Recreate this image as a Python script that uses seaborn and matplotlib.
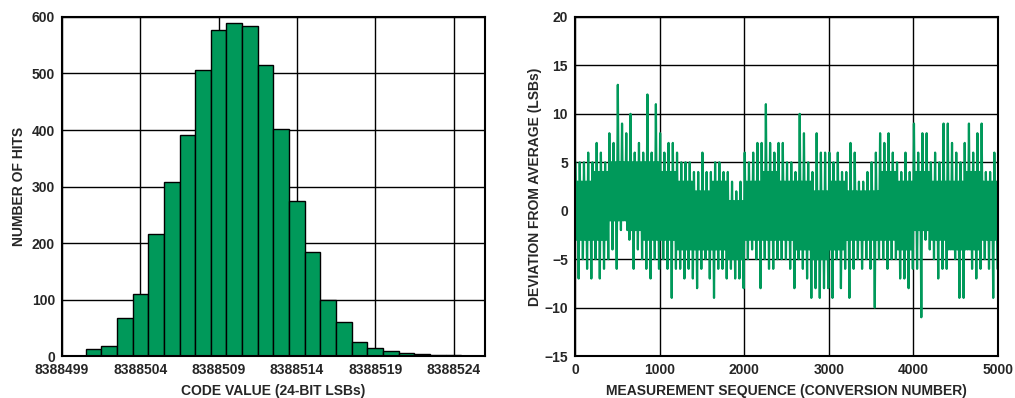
import numpy as np
import pandas as pd
import matplotlib.pyplot as plt
import seaborn as sns

# histogram of output codes (counts)
codes = [8388501, 8388502, 8388503, 8388504, 8388505, 8388506, 8388507, 8388508,
         8388509, 8388510, 8388511, 8388512, 8388513, 8388514, 8388515, 8388516,
         8388517, 8388518, 8388519, 8388520, 8388521, 8388522, 8388523, 8388524]
hits = [12, 18, 67, 110, 216, 308, 391, 507,
        577, 590, 584, 515, 401, 274, 184, 100,
        60, 25, 15, 8, 5, 3, 2, 1]

# deviation record: highest and lowest excursion in each block of 50 conversions
block = 50
dev_high = [5, 5, 5, 6, 5, 7, 6, 5, 8, 7, 13, 9, 8, 10, 6, 7, 6, 12, 6, 11,
            8, 6, 7, 7, 6, 5, 5, 5, 4, 4, 6, 4, 4, 5, 5, 4, 4, 3, 2, 3,
            6, 5, 6, 7, 7, 11, 7, 6, 7, 7, 5, 5, 4, 10, 8, 5, 4, 8, 6, 6,
            6, 5, 6, 4, 4, 7, 6, 3, 3, 4, 5, 6, 8, 7, 8, 6, 5, 4, 6, 4,
            9, 6, 8, 8, 5, 6, 5, 9, 9, 7, 6, 5, 7, 9, 6, 8, 9, 4, 4, 6]
dev_low = [-7, -5, -6, -7, -5, -7, -6, -5, -4, -6, -2, -1, -3, -6, -4, -5, -6, -7, -5, -6,
           -5, -6, -9, -6, -6, -7, -6, -7, -8, -6, -5, -7, -9, -6, -6, -7, -6, -7, -7, -8,
           -5, -4, -5, -8, -5, -6, -6, -5, -5, -5, -6, -8, -5, -6, -7, -9, -8, -9, -8, -8,
           -9, -5, -8, -6, -9, -6, -5, -6, -5, -6, -10, -5, -5, -6, -5, -5, -7, -7, -8, -6,
           -6, -11, -3, -4, -5, -7, -6, -6, -4, -5, -9, -9, -4, -6, -7, -6, -5, -6, -9, -6]
# edges of the solid core of the trace, per 200 conversions
core_block = 200
core_high = [3, 4, 5, 5, 5, 4, 3, 2, 3, 1, 3, 4, 3, 3, 2, 3, 2, 2, 4, 3, 4, 3, 3, 4, 3]
core_low = [-3, -3, -1, -2, -3, -3, -4, -4, -4, -5, -3, -3, -3, -4, -5,
            -4, -3, -3, -3, -4, -2, -3, -4, -4, -3]

hist_df = pd.DataFrame({"code": codes, "hits": hits})

seq = []
dev = []
for i in range(len(dev_high)):
    c = (i * block) // core_block
    seq += [i * block + 6, i * block + 18, i * block + 31, i * block + 43]
    dev += [dev_high[i], core_low[c], core_high[c], dev_low[i]]
dev_df = pd.DataFrame({"seq": seq, "dev": dev})

green = "#00995A"

sns.set_style("white")
plt.rcParams["font.family"] = ["Liberation Sans", "DejaVu Sans"]
plt.rcParams["font.weight"] = "bold"

fig = plt.figure(figsize=(10.15, 3.98), dpi=100)
ax1 = fig.add_axes([0.0611, 0.1055, 0.4167, 0.8518])
ax2 = fig.add_axes([0.5665, 0.1055, 0.4168, 0.8518])

sns.histplot(data=hist_df, x="code", weights="hits", discrete=True, ax=ax1,
             color=green, alpha=1, edgecolor="black", linewidth=1, zorder=3)
ax1.set_xlim(8388499, 8388526)
ax1.set_ylim(0, 600)
ax1.set_xticks(range(8388499, 8388525, 5))
ax1.set_yticks(range(0, 601, 100))
ax1.set_xlabel("CODE VALUE (24-BIT LSBs)", fontsize=10, fontweight="bold", labelpad=5)
ax1.set_ylabel("NUMBER OF HITS", fontsize=10, fontweight="bold", labelpad=4)
ax1.ticklabel_format(useOffset=False, style="plain", axis="x")

sns.lineplot(data=dev_df, x="seq", y="dev", ax=ax2, color=green, linewidth=1.6,
             estimator=None, sort=False, zorder=3)
ax2.set_xlim(0, 5000)
ax2.set_ylim(-15, 20)
ax2.set_xticks(range(0, 5001, 1000))
ax2.set_yticks(range(-15, 21, 5))
ax2.set_xlabel("MEASUREMENT SEQUENCE (CONVERSION NUMBER)", fontsize=10, fontweight="bold", labelpad=5)
ax2.set_ylabel("DEVIATION FROM AVERAGE (LSBs)", fontsize=10, fontweight="bold", labelpad=2)

for ax in (ax1, ax2):
    ax.grid(True, color="black", linewidth=1)
    ax.set_axisbelow(True)
    ax.tick_params(length=0, labelsize=10, pad=5)
    for lbl in ax.get_xticklabels() + ax.get_yticklabels():
        lbl.set_fontweight("bold")
    for s in ax.spines.values():
        s.set_color("black")
        s.set_linewidth(1.5)
        s.set_zorder(5)

# grid lines of the deviation plot sit on top of the trace
ax2.set_axisbelow(False)

plt.savefig("out.png", dpi=100)
